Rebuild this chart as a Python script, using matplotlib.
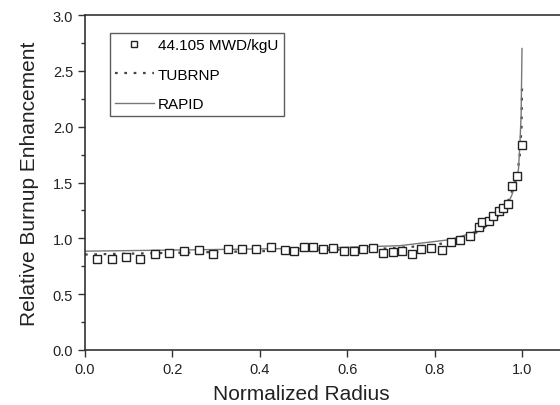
import matplotlib
matplotlib.use("Agg")
import matplotlib.pyplot as plt
from matplotlib.ticker import MultipleLocator

plt.rcParams['font.family'] = ['Liberation Sans', 'DejaVu Sans']

# measured burnup enhancement (44.105 MWD/kgU)
meas_r = [0.027, 0.061, 0.094, 0.126, 0.160, 0.192, 0.226, 0.260, 0.293, 0.327,
          0.360, 0.391, 0.425, 0.458, 0.479, 0.501, 0.522, 0.545, 0.568, 0.593,
          0.616, 0.637, 0.658, 0.681, 0.704, 0.726, 0.748, 0.770, 0.792, 0.816,
          0.837, 0.859, 0.881, 0.902, 0.909, 0.924, 0.934, 0.947, 0.957, 0.967,
          0.978, 0.989, 1.000]
meas_val = [0.815, 0.815, 0.835, 0.815, 0.860, 0.866, 0.889, 0.896, 0.860, 0.904,
            0.904, 0.904, 0.920, 0.896, 0.889, 0.925, 0.925, 0.904, 0.913, 0.889,
            0.889, 0.904, 0.913, 0.866, 0.880, 0.884, 0.860, 0.904, 0.913, 0.898,
            0.970, 0.988, 1.018, 1.099, 1.149, 1.158, 1.203, 1.242, 1.269, 1.307,
            1.471, 1.561, 1.836]

# TUBRNP calculation
tub_r = [0.0, 0.2, 0.4, 0.6, 0.7, 0.8, 0.85, 0.9, 0.93, 0.95, 0.97, 0.98,
         0.99, 0.995, 0.999, 1.0]
tub_val = [0.855, 0.87, 0.885, 0.90, 0.91, 0.94, 0.98, 1.06, 1.14, 1.22, 1.35,
           1.45, 1.60, 1.75, 2.00, 2.35]

# RAPID calculation
rap_r = [0.0, 0.2, 0.4, 0.5, 0.6, 0.72, 0.835, 0.879, 0.904, 0.927, 0.95,
         0.965, 0.976, 0.984, 0.992, 0.995, 0.998, 1.0]
rap_val = [0.885, 0.895, 0.905, 0.91, 0.92, 0.934, 0.988, 1.04, 1.08, 1.145,
           1.22, 1.29, 1.38, 1.47, 1.62, 1.83, 2.10, 2.70]

fig = plt.figure(figsize=(5.6, 4.06), dpi=100)
ax = fig.add_axes([85 / 560, 55 / 406, 475 / 560, 335 / 406])

ax.plot(meas_r, meas_val, linestyle='none', marker='s', markersize=6,
        markerfacecolor='white', markeredgecolor='#222222', markeredgewidth=1.0,
        label='44.105 MWD/kgU', zorder=3)
ax.plot(tub_r, tub_val, color='#444444', linewidth=1.6, linestyle=(0, (1.2, 3.0)),
        label='TUBRNP', zorder=2)
ax.plot(rap_r, rap_val, color='#777777', linewidth=1.0, label='RAPID', zorder=2)

ax.set_xlim(0, 475 / 437)
ax.set_ylim(0, 3.0)
ax.set_xticks([0.0, 0.2, 0.4, 0.6, 0.8, 1.0])
ax.yaxis.set_major_locator(MultipleLocator(0.5))
ax.yaxis.set_minor_locator(MultipleLocator(0.25))
ax.xaxis.set_major_formatter(plt.FormatStrFormatter('%.1f'))
ax.yaxis.set_major_formatter(plt.FormatStrFormatter('%.1f'))

for side in ['left', 'bottom', 'top']:
    ax.spines[side].set_color('#333333')
    ax.spines[side].set_linewidth(1.2)
ax.spines['right'].set_visible(False)
ax.tick_params(which='major', direction='out', length=5, width=1.0,
               colors='#333333', labelsize=10.5, labelcolor='#222222')
ax.tick_params(which='minor', direction='out', length=3, width=1.0, colors='#333333')

# label centred on the 0-1 radius span, as in the original
ax.set_xlabel('Normalized Radius', fontsize=15, color='#222222', labelpad=6, x=0.455)
ax.set_ylabel('Relative Burnup Enhancement', fontsize=15, color='#222222', labelpad=10)

leg = ax.legend(loc='upper left', bbox_to_anchor=(25 / 475, 317 / 335),
                borderaxespad=0, fontsize=11, frameon=True, fancybox=False,
                handlelength=2.5, handletextpad=0.3, labelspacing=1.0,
                borderpad=0.35, markerscale=0.8)
leg.get_frame().set_edgecolor('#333333')
leg.get_frame().set_linewidth(1.0)

fig.savefig('out.png', dpi=100)
